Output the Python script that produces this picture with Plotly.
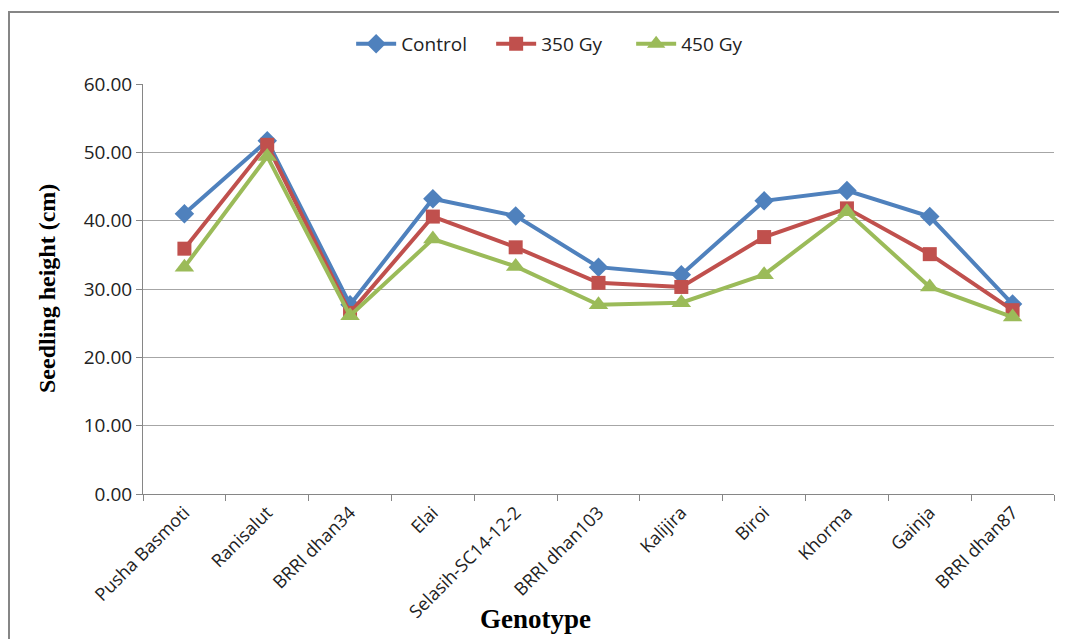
import plotly.graph_objects as go

genotypes = ["Pusha Basmoti", "Ranisalut", "BRRI dhan34", "Elai", "Selasih-SC14-12-2",
             "BRRI dhan103", "Kalijira", "Biroi", "Khorma", "Gainja", "BRRI dhan87"]
control = [41.0, 51.7, 27.7, 43.2, 40.7, 33.2, 32.1, 42.9, 44.4, 40.6, 27.8]
gy350 = [35.9, 51.1, 26.5, 40.6, 36.1, 30.9, 30.3, 37.6, 41.8, 35.1, 26.9]
gy450 = [33.2, 49.4, 26.1, 37.3, 33.3, 27.7, 28.0, 32.1, 41.3, 30.3, 25.9]
y_ticks = [0, 10, 20, 30, 40, 50, 60]

fig = go.Figure()
series = [
    ("Control", control, "#4F81BD", "diamond", 15),
    ("350 Gy", gy350, "#C0504D", "square", 14),
    ("450 Gy", gy450, "#9BBB59", "triangle-up", 17),
]
for name, vals, color, sym, size in series:
    fig.add_trace(go.Scatter(
        x=genotypes, y=vals, name=name, mode="lines+markers",
        line=dict(color=color, width=4),
        marker=dict(symbol=sym, size=size, color=color),
    ))

fig.update_layout(
    width=1067, height=639,
    margin=dict(l=135, r=21, t=76, b=153),
    paper_bgcolor="white", plot_bgcolor="white",
    font=dict(family="Open Sans, Lato, sans-serif", size=18, color="#222"),
    legend=dict(orientation="h", x=0.459, xanchor="center", y=1.098, yanchor="middle",
                font=dict(size=19), itemwidth=40, entrywidth=85, entrywidthmode="pixels"),
    showlegend=True,
)
fig.update_xaxes(
    type="category", tickangle=-45, tickson="boundaries", ticks="outside",
    ticklen=6, tickcolor="#868686", showline=True, linecolor="#868686", linewidth=1,
    showgrid=False, tickfont=dict(size=18), range=[-0.5, 10.5], automargin=False,
)
fig.update_yaxes(
    range=[0, 60], tickvals=y_ticks, ticktext=[f"{v:.2f}" for v in y_ticks],
    ticks="outside", ticklen=6, tickcolor="#868686", showline=True, linecolor="#868686",
    linewidth=1, showgrid=True, gridcolor="#A6A6A6", gridwidth=1, zeroline=False,
    tickfont=dict(size=19), automargin=False,
)
fig.add_annotation(text="<b>Seedling height (cm)</b>", xref="paper", yref="paper",
                   x=(47 - 143) / 911, y=0.5, xanchor="center", yanchor="middle",
                   showarrow=False, textangle=-90,
                   font=dict(family="Liberation Serif, Times New Roman, serif", size=24, color="#000"))
fig.add_annotation(text="<b>Genotype</b>", xref="paper", yref="paper",
                   x=(535 - 143) / 911, y=-(619 - 494) / 410, xanchor="center", yanchor="middle",
                   showarrow=False,
                   font=dict(family="Liberation Serif, Times New Roman, serif", size=27, color="#000"))
fig.add_shape(type="rect", xref="paper", yref="paper",
              x0=(9 - 143) / 911, x1=(1062 - 143) / 911,
              y0=-(700 - 494) / 410, y1=(494 - 12) / 410,
              line=dict(color="#868686", width=2), fillcolor="rgba(0,0,0,0)", layer="below")

fig.write_html("out.html")
